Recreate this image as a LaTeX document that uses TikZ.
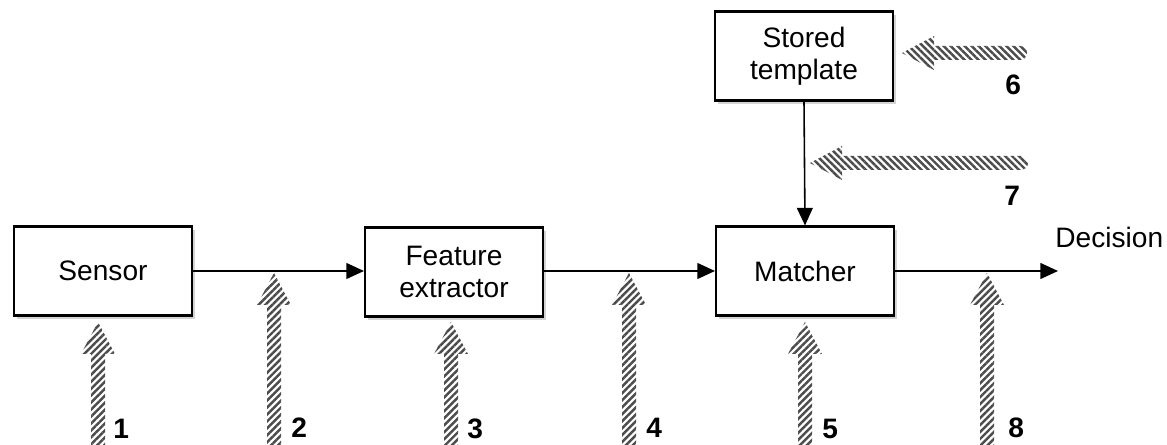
\documentclass[tikz,border=0pt]{standalone}
\usepackage{fontspec}
\setmainfont{Liberation Sans}
\usetikzlibrary{arrows.meta,patterns.meta,shadows,positioning}

\tikzset{
  block/.style={draw, line width=1.2pt, fill=white, minimum width=3.56cm,
    minimum height=1.78cm, align=center, font=\fontsize{16}{18}\selectfont,
    drop shadow={shadow xshift=1.5pt, shadow yshift=-2pt, opacity=0.35}},
  flow/.style={line width=0.9pt, -{Triangle[length=10pt,width=9pt]}},
  hatch/.style={pattern={Lines[angle=45,distance=2.8pt,line width=1.4pt]},
    pattern color=black!70},
  hatchh/.style={pattern={Lines[angle=-45,distance=2.8pt,line width=1.4pt]},
    pattern color=black!70},
  num/.style={font=\fontsize{16}{18}\selectfont\bfseries, anchor=base west, inner sep=0pt},
  pics/attackup/.style={code={
    \fill[hatch] (0,0) -- (17,32) -- (7,32) -- (7,#1) -- (-7,#1) -- (-7,32) -- (-17,32) -- cycle;}},
  pics/attackleft/.style={code={
    \fill[hatchh] (0,0) -- (32,-17) -- (32,-7) -- (#1,-7) arc (-90:90:7) -- (32,7) -- (32,17) -- cycle;}},
}

\begin{document}
\begin{tikzpicture}[x=0.02cm, y=-0.02cm]
  \useasboundingbox (0,0) rectangle (1167,445);

  % blocks
  \node[block] (sensor) at (103,271) {Sensor};
  \node[block] (extractor) at (454,272) {Feature\\extractor};
  \node[block] (matcher) at (805,271) {Matcher};
  \node[block] (template) at (804,56) {Stored\\template};
  \coordinate (out) at (1058,271);
  \node[font=\fontsize{16}{18}\selectfont, anchor=base west, inner sep=0pt] (decision) at (1055,248) {Decision};

  % data flow
  \draw[flow] (sensor.east |- 0,271) -- (extractor.west |- 0,271);
  \draw[flow] (extractor.east |- 0,271) -- (matcher.west |- 0,271);
  \draw[flow] (matcher.east) -- (out);
  \draw[flow] (template.south) -- (matcher.north);

  % attack points
  \pic at (98,322) {attackup=123};
  \pic at (274,273) {attackup=172};
  \pic at (451,322) {attackup=123};
  \pic at (629,273) {attackup=172};
  \pic at (805,322) {attackup=123};
  \pic at (987,273) {attackup=172};
  \pic at (902,53) {attackleft=118};
  \pic at (810,163) {attackleft=211};

  % labels
  \node[num] (n1) at (113,439) {1};
  \node[num] (n2) at (291,438) {2};
  \node[num] (n3) at (467,439) {3};
  \node[num] (n4) at (646,438) {4};
  \node[num] (n5) at (822,439) {5};
  \node[num] (n8) at (1008,438) {8};
  \node[num] (n6) at (1005,95) {6};
  \node[num] (n7) at (1004,206) {7};
\end{tikzpicture}
\end{document}
